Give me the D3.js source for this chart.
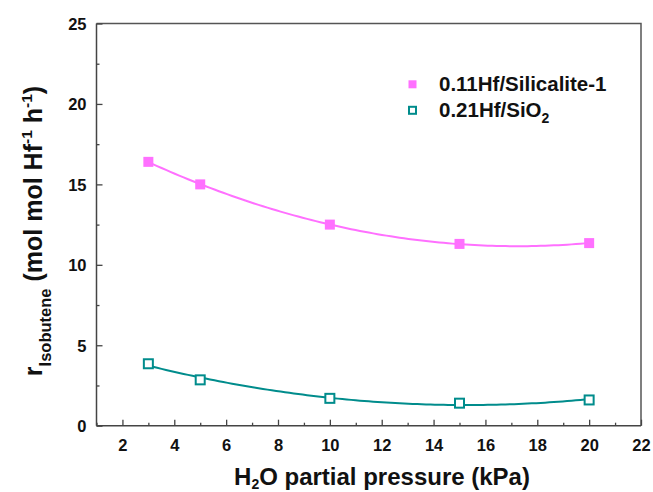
<!DOCTYPE html>
<html>
<head>
<meta charset="utf-8">
<script src="https://cdn.jsdelivr.net/npm/d3@7/dist/d3.min.js"></script>
<style>
  html, body { margin: 0; padding: 0; background: #fff; }
  svg { display: block; font-family: "Liberation Sans", Arial, sans-serif; font-weight: bold; }
</style>
</head>
<body>
<svg id="chart" width="653" height="492"></svg>
<script>
// H2O partial pressure (kPa)
const pressure = [3, 5, 10, 15, 20];
// Isobutene formation rate (mol mol Hf^-1 h^-1)
const hfSilicalite = [16.4, 15.0, 12.5, 11.3, 11.35];
const hfSiO2 = [3.85, 2.85, 1.7, 1.4, 1.6];

const xTicks = [2, 4, 6, 8, 10, 12, 14, 16, 18, 20, 22];
const yTicks = [0, 5, 10, 15, 20, 25];

const series = [
  { name: "0.11Hf/Silicalite-1", values: hfSilicalite, color: "#ff70ff", filled: true },
  { name: "0.21Hf/SiO", sub: "2", values: hfSiO2, color: "#008c8c", filled: false }
];

const svg = d3.select("#chart");
const m = { left: 96.5, right: 641, top: 23.5, bottom: 425.7 };

const x = d3.scaleLinear().domain([1, 22]).range([m.left, m.right]);
const y = d3.scaleLinear().domain([0, 25]).range([m.bottom, m.top]);

// frame (top/right)
svg.append("path")
  .attr("d", `M${m.left},${m.top}H${m.right}V${m.bottom}`)
  .attr("fill", "none").attr("stroke", "#555").attr("stroke-width", 1.5);

// bottom axis, ticks pointing inward
const gx = svg.append("g").attr("transform", `translate(0,${m.bottom})`);
gx.call(d3.axisBottom(x).tickValues(d3.range(1, 23, 1)).tickSize(-3).tickFormat(""));
gx.call(g => g.selectAll(".tick").filter(d => d % 2 === 0).select("line").attr("y2", -6));
gx.selectAll(".tick").filter(d => d % 2 === 0 && xTicks.includes(d))
  .append("text").attr("y", 25).attr("fill", "#111")
  .attr("text-anchor", "middle").attr("font-size", 16.5)
  .text(d => d);
gx.select(".domain").attr("stroke", "#444").attr("stroke-width", 1.5);
gx.selectAll(".tick line").attr("stroke", "#444").attr("stroke-width", 1.3);

// left axis, ticks pointing inward
const gy = svg.append("g").attr("transform", `translate(${m.left},0)`);
gy.call(d3.axisLeft(y).tickValues(d3.range(0, 25.1, 2.5)).tickSize(-3).tickFormat(""));
gy.call(g => g.selectAll(".tick").filter(d => d % 5 === 0).select("line").attr("x2", 6));
gy.selectAll(".tick").filter(d => yTicks.includes(d))
  .append("text").attr("x", -10).attr("dy", "0.36em").attr("fill", "#111")
  .attr("text-anchor", "end").attr("font-size", 16.5)
  .text(d => d);
gy.select(".domain").attr("stroke", "#444").attr("stroke-width", 1.5);
gy.selectAll(".tick line").attr("stroke", "#444").attr("stroke-width", 1.3);
gy.select(".domain").attr("d", `M0,${m.bottom}V${m.top}`);
gx.select(".domain").attr("d", `M${m.left},0H${m.right}`);

// second-order polynomial least-squares fit
function quadFit(xs, ys) {
  let S = Array.from({ length: 5 }, (_, k) => d3.sum(xs, v => Math.pow(v, k)));
  let T = Array.from({ length: 3 }, (_, k) => d3.sum(xs, (v, i) => Math.pow(v, k) * ys[i]));
  const A = [[S[0], S[1], S[2], T[0]], [S[1], S[2], S[3], T[1]], [S[2], S[3], S[4], T[2]]];
  for (let i = 0; i < 3; i++) {
    for (let j = i + 1; j < 3; j++) {
      const f = A[j][i] / A[i][i];
      for (let k = i; k < 4; k++) A[j][k] -= f * A[i][k];
    }
  }
  const c = [0, 0, 0];
  for (let i = 2; i >= 0; i--) {
    let s = A[i][3];
    for (let k = i + 1; k < 3; k++) s -= A[i][k] * c[k];
    c[i] = s / A[i][i];
  }
  return t => c[0] + c[1] * t + c[2] * t * t;
}

const line = d3.line().x(d => x(d[0])).y(d => y(d[1])).curve(d3.curveLinear);
const xMin = d3.min(pressure), xMax = d3.max(pressure);

series.forEach(s => {
  const f = quadFit(pressure, s.values);
  const pts = d3.range(0, 101).map(i => {
    const t = xMin + (xMax - xMin) * i / 100;
    return [t, f(t)];
  });
  svg.append("path").datum(pts)
    .attr("d", line).attr("fill", "none")
    .attr("stroke", s.color).attr("stroke-width", 2);

  svg.append("g").selectAll("rect").data(pressure.map((p, i) => [p, s.values[i]]))
    .join("rect")
    .attr("x", d => x(d[0]) - (s.filled ? 5 : 4.5))
    .attr("y", d => y(d[1]) - (s.filled ? 5 : 4.5))
    .attr("width", s.filled ? 10 : 9).attr("height", s.filled ? 10 : 9)
    .attr("fill", s.filled ? s.color : "#fff")
    .attr("stroke", s.color).attr("stroke-width", s.filled ? 0 : 2);
});

// legend
const lg = svg.append("g");
series.forEach((s, i) => {
  const cy = 84.3 + i * 26;
  const sz = s.filled ? 8 : 7;
  lg.append("rect")
    .attr("x", 412.5 - sz / 2).attr("y", cy - sz / 2).attr("width", sz).attr("height", sz)
    .attr("fill", s.filled ? s.color : "#fff")
    .attr("stroke", s.color).attr("stroke-width", s.filled ? 0 : 2);
  const t = lg.append("text").attr("x", 439).attr("y", cy + 7)
    .attr("font-size", 20.5).attr("fill", "#111").text(s.name);
  if (s.sub) t.append("tspan").attr("font-size", 14).attr("dy", 6).text(s.sub);
});

// x-axis title
const xt = svg.append("text").attr("x", 382).attr("y", 485)
  .attr("text-anchor", "middle").attr("font-size", 24).attr("fill", "#111");
xt.append("tspan").text("H");
xt.append("tspan").attr("font-size", 14).attr("dy", 4).text("2");
xt.append("tspan").attr("dy", -4).text("O partial pressure (kPa)");

// y-axis title
const yt = svg.append("text")
  .attr("transform", "translate(42,231) rotate(-90)")
  .attr("text-anchor", "middle").attr("font-size", 25).attr("fill", "#111");
yt.append("tspan").text("r");
yt.append("tspan").attr("font-size", 16.5).attr("dy", 9).text("Isobutene");
yt.append("tspan").attr("dy", -9).text(" (mol mol Hf");
yt.append("tspan").attr("font-size", 15.5).attr("dy", -10).text("-1");
yt.append("tspan").attr("dy", 10).text(" h");
yt.append("tspan").attr("font-size", 15.5).attr("dy", -10).text("-1");
yt.append("tspan").attr("dy", 10).text(")");
</script>
</body>
</html>
